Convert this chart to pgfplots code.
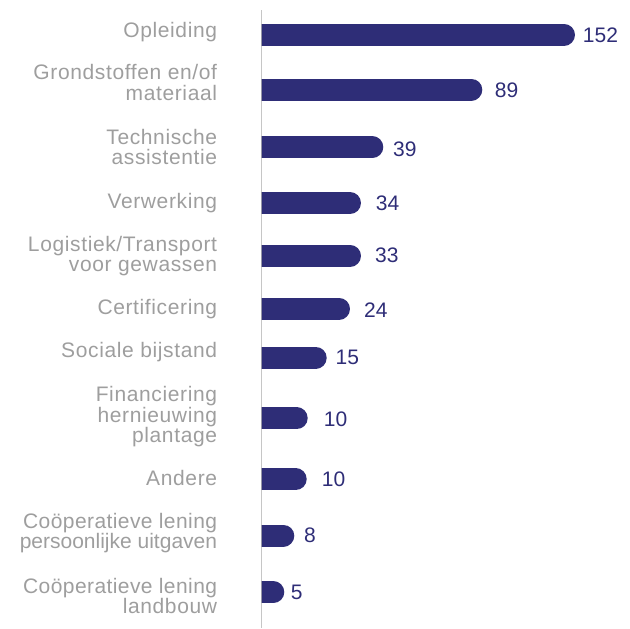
\documentclass[border=0pt]{standalone}
\usepackage{fontspec}
\setmainfont{Liberation Sans}
\newfontfamily\labfont{Liberation Sans}[LetterSpace=3]
\newfontfamily\labmid{Liberation Sans}[LetterSpace=2]
\newfontfamily\labplain{Liberation Sans}
\usepackage{pgfplots}
\usepackage{pgfplotstable}
\pgfplotsset{compat=1.18}
\definecolor{barcol}{HTML}{2E2D77}
\definecolor{labgray}{HTML}{9E9E9E}
\definecolor{axgray}{HTML}{A8A8A8}
% y: bar centre, len: drawn bar length, ly/lx: value label position, v: value
\pgfplotstableread{
y len ly lx v
34.7 313.7 35.6 321.4 152
89.5 221 90 233.4 89
147.2 122 148.8 131.7 39
203 99.7 203.7 114.4 34
255.8 99.7 255.5 113.7 33
308.8 88.7 309.7 102.7 24
357.7 65.4 357.5 74.1 15
418.3 46.4 419 62.4 10
479.2 45.4 479.2 60.4 10
535.5 33 535.5 42.7 8
592.2 23 592 29.4 5
}\data
\begin{document}
\begin{tikzpicture}
\useasboundingbox (0,0) rectangle (630pt,-629pt);
\begin{axis}[
  at={(261.3pt,-10pt)}, anchor=north west,
  scale only axis, width=368.7pt, height=618pt,
  xmin=0, xmax=368.7, ymin=10, ymax=628, y dir=reverse,
  axis line style={draw=none},
  xtick=\empty,
  ytick={31.7,82.5,147.2,202.7,256,308.9,351.7,416.7,477.5,533,595.8},
  yticklabels={Opleiding,{Grondstoffen en/of\\materiaal},{Technische\\assistentie},Verwerking,{Logistiek/Transport\\voor gewassen},Certificering,Sociale bijstand,{Financiering\\hernieuwing\\plantage},Andere,{\labmid Coöperatieve lening\\\labplain persoonlijke uitgaven},{\labmid Coöperatieve lening\\landbouw}},
  major tick length=0pt,
  yticklabel style={font=\labfont\fontsize{21pt}{20.5pt}\selectfont, text=labgray, align=right, inner sep=0pt, anchor=east, xshift=-44pt},
  clip=true,
]
\addplot[xcomb, line width=22pt, line cap=round, color=barcol] table[x expr=\thisrow{len}-11, y=y] {\data};
\addplot[draw=none, nodes near coords, point meta=explicit symbolic,
  nodes near coords style={anchor=west, inner sep=0pt, font=\fontsize{21pt}{21pt}\selectfont, text=barcol}]
  table[x=lx, y=ly, meta=v] {\data};
\draw[axgray, line width=1pt] (axis cs:0,10) -- (axis cs:0,628);
\end{axis}
\end{tikzpicture}
\end{document}
